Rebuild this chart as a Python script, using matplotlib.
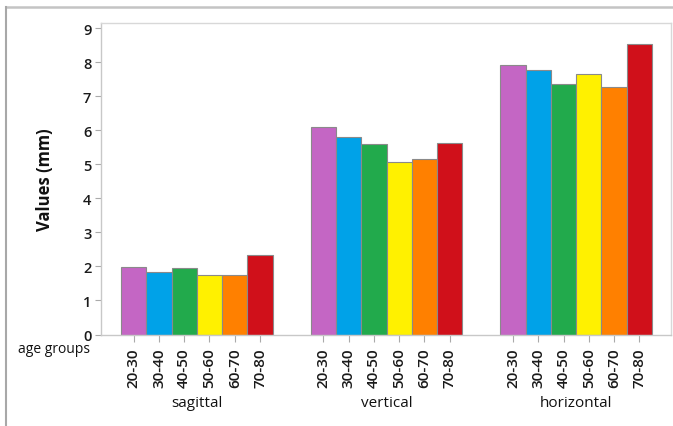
import matplotlib
matplotlib.use("Agg")
import matplotlib.pyplot as plt
from matplotlib.lines import Line2D
import matplotlib.transforms as mtrans

plt.rcParams['font.family'] = ['Open Sans', 'DejaVu Sans']

groups = ["sagittal", "vertical", "horizontal"]
age_groups = ["20-30", "30-40", "40-50", "50-60", "60-70", "70-80"]
colors = ["#C466C4", "#00A2E8", "#22AA4C", "#FFF100", "#FF8000", "#D0101A"]
sagittal = [1.99, 1.85, 1.96, 1.75, 1.75, 2.34]
vertical = [6.10, 5.79, 5.60, 5.06, 5.16, 5.63]
horizontal = [7.93, 7.77, 7.36, 7.64, 7.27, 8.52]
values = [sagittal, vertical, horizontal]
yticks = list(range(0, 10))

W, H = 673, 427
fig = plt.figure(figsize=(W / 100, H / 100), dpi=100)
ax = fig.add_axes([101 / W, 1 - 335.5 / H, 570 / W, 311.5 / H])

group_step = 7.5
positions, labels = [], []
for g, vals in enumerate(values):
    xs = [g * group_step + i for i in range(len(vals))]
    ax.bar(xs, vals, width=1.0, color=colors, edgecolor="#8a8a8a", linewidth=0.8, zorder=2)
    positions += xs
    labels += age_groups

ax.set_xlim(-1.29, 2 * group_step + 5 + 1.25)
ax.set_ylim(0, 9.15)
ax.set_yticks(yticks)
ax.set_yticklabels([str(t) for t in yticks], fontsize=10.5, fontweight='semibold', color="#1a1a1a")
ax.set_xticks(positions)
ax.set_xticklabels(labels, rotation=90, fontsize=11, fontweight='semibold', color="#1a1a1a")
ax.tick_params(axis='y', length=4, color="#aaaaaa", pad=3)
ax.tick_params(axis='x', length=5, color="#aaaaaa", pad=4)
for s in ax.spines.values():
    s.set_color("#d8d8d8")
    s.set_linewidth(1.0)
ax.spines['left'].set_color("#c8c8c8")
ax.spines['bottom'].set_color("#c8c8c8")

# group labels
tr = mtrans.blended_transform_factory(ax.transData, fig.transFigure)
for g, name in enumerate(groups):
    xc = g * group_step + 2.5
    ax.text(xc, 1 - 404 / H, name, transform=tr, ha='center', va='center',
            fontsize=11, color="#111111")

fig.text(18 / W, 1 - 350 / H, "age groups", ha='left', va='center', fontsize=10, color="#111111")
fig.text(45 / W, 1 - 180 / H, "Values (mm)", rotation=90, ha='center', va='center',
         fontsize=12, fontweight='bold', color="#111111")

# outer frame lines
fig.add_artist(Line2D([6 / W, 1], [1 - 7.5 / H, 1 - 7.5 / H], color="#c4c4c4", linewidth=1.8, transform=fig.transFigure))
fig.add_artist(Line2D([6 / W, 6 / W], [0, 1 - 7.5 / H], color="#a8a8a8", linewidth=1.5, transform=fig.transFigure))

fig.savefig("out.png", dpi=100)
